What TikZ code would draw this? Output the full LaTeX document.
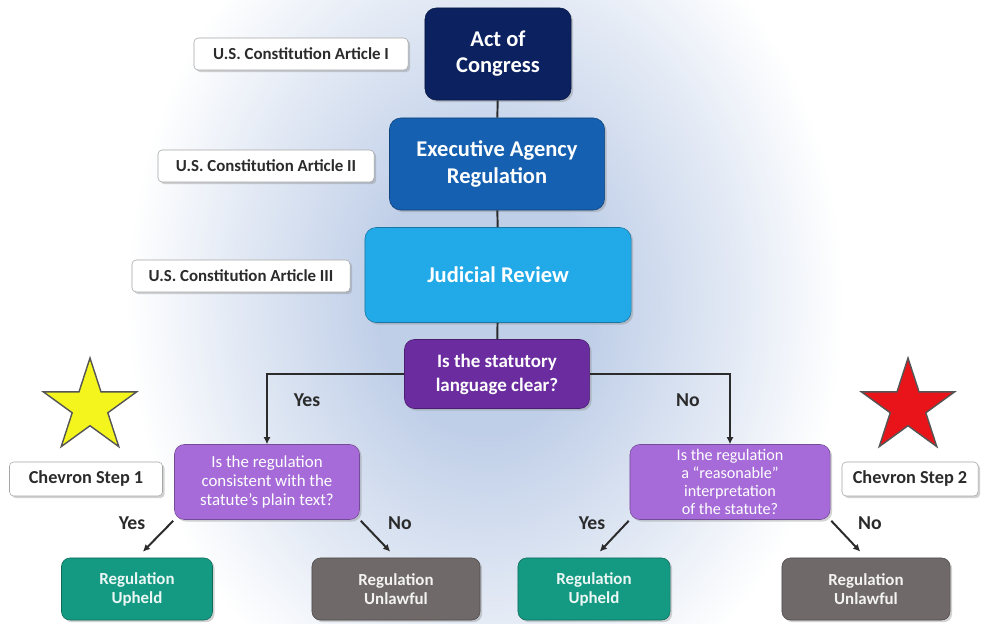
\documentclass[tikz,border=0pt]{standalone}
\usepackage{fontspec}
\setmainfont{Carlito}
\usetikzlibrary{arrows.meta,positioning,shapes.geometric,shadows}
\definecolor{navy}{HTML}{0B2160}
\definecolor{agency}{HTML}{1560B0}
\definecolor{court}{HTML}{22AAE8}
\definecolor{plum}{HTML}{6B2C9F}
\definecolor{lilac}{HTML}{A66BD8}
\definecolor{upheld}{HTML}{149A82}
\definecolor{unlawful}{HTML}{706969}
\definecolor{ink}{HTML}{2B2B2B}
\definecolor{glow}{HTML}{C0CFE8}
\definecolor{starred}{HTML}{E8141A}
\definecolor{staryel}{HTML}{F5F51E}
\pgfdeclareradialshading{bgglow}{\pgfpoint{0bp}{0bp}}{color(0bp)=(glow); color(7bp)=(glow); color(16bp)=(glow!45!white); color(23bp)=(white); color(50bp)=(white)}
\tikzset{
  boxshadow/.style={drop shadow={opacity=.35,shadow xshift=1.5pt,shadow yshift=-1.5pt}},
  mainbox/.style={rounded corners=8pt,draw=#1!70!black,fill=#1,text=white,align=center,
    font=\fontsize{16}{18.5}\selectfont\bfseries,boxshadow},
  qbox/.style={rounded corners=7pt,draw=#1!70!black,fill=#1,text=white,align=center,
    inner sep=1pt,boxshadow},
  outbox/.style={rounded corners=6pt,draw=#1!70!black,fill=#1,text=white!92!#1,align=center,
    font=\fontsize{12}{13.5}\selectfont\bfseries,minimum height=1.55cm,boxshadow},
  labelbox/.style={rounded corners=3pt,draw=gray!70,fill=white,text=ink,
    minimum height=0.8cm,boxshadow},
  starshape/.style={star,star points=5,star point ratio=2.618,minimum size=2.45cm,
    inner sep=0pt,draw=ink!80,line width=1pt},
  link/.style={draw=ink,line width=1.4pt},
  arr/.style={link,-{Latex[length=5pt,width=5pt]}},
  yn/.style={text=ink,font=\fontsize{14}{15}\selectfont\bfseries}
}
\begin{document}
\begin{tikzpicture}[x=0.025cm,y=-0.025cm]
\begin{scope}
  \clip (0,0) rectangle (990,623);
  \fill[white] (0,0) rectangle (990,623);
  \shade[shading=bgglow] (95,-180) rectangle (875,780);
\end{scope}
\useasboundingbox (0,0) rectangle (990,623);

% the chain of authority
\node[mainbox=navy,minimum width=3.65cm,minimum height=2.3cm] (act) at (498,54) {Act of\\Congress};
\node[mainbox=agency,minimum width=5.375cm,minimum height=2.3cm] (agency) at (497,164) {Executive Agency\\Regulation};
\node[mainbox=court,minimum width=6.65cm,minimum height=2.375cm] (review) at (498,275) {Judicial Review};
\node[qbox=plum,minimum width=4.625cm,minimum height=1.725cm,
  font=\fontsize{13.5}{17}\selectfont\bfseries] (clear) at (497,374) {Is the statutory\\language clear?};

% constitution labels
\node[labelbox,minimum width=5.35cm,font=\fontsize{12}{13}\selectfont\bfseries] (art1) at (301,54) {U.S. Constitution Article I};
\node[labelbox,minimum width=5.4cm,font=\fontsize{12}{13}\selectfont\bfseries] (art2) at (266,166) {U.S. Constitution Article II};
\node[labelbox,minimum width=5.45cm,font=\fontsize{12}{13}\selectfont\bfseries] (art3) at (241,276) {U.S. Constitution Article III};

% the two steps
\node[qbox=lilac,minimum width=4.625cm,minimum height=1.875cm,
  font=\fontsize{12}{13.5}\selectfont] (step1q) at (267,482) {Is the regulation\\consistent with the\\statute's plain text?};
\node[qbox=lilac,minimum width=5cm,minimum height=1.875cm,
  font=\fontsize{11.5}{12.8}\selectfont] (step2q) at (730,482) {Is the regulation\\a ``reasonable''\\interpretation\\of the statute?};

\node[labelbox,minimum width=3.825cm,minimum height=0.85cm,font=\fontsize{13}{14}\selectfont\bfseries] (chev1) at (86,479) {Chevron Step 1};
\node[labelbox,minimum width=3.4cm,minimum height=0.85cm,font=\fontsize{13}{14}\selectfont\bfseries] (chev2) at (910,479) {Chevron Step 2};

\node[starshape,fill=staryel] (star1) at (90,407) {};
\node[starshape,fill=starred] (star2) at (908,407) {};

% outcomes
\node[outbox=upheld,minimum width=3.775cm] (up1) at (137,589) {Regulation\\Upheld};
\node[outbox=unlawful,minimum width=4.2cm] (no1) at (396,589) {Regulation\\Unlawful};
\node[outbox=upheld,minimum width=3.8cm] (up2) at (594,589) {Regulation\\Upheld};
\node[outbox=unlawful,minimum width=4.2cm] (no2) at (866,589) {Regulation\\Unlawful};

% connectors
\draw[link] (act) -- (agency);
\draw[link] (agency) -- (review);
\draw[link] (review) -- (clear);
\draw[arr] (clear.west) -| (step1q.north);
\draw[arr] (clear.east) -| (step2q.north);
\node[yn] (yes0) at (307,400) {Yes};
\node[yn] (no0) at (688,400) {No};

\draw[arr,shorten <=1pt,shorten >=6pt] (step1q.south west) -- (up1.north);
\draw[arr,shorten <=1pt,shorten >=6pt] (step1q.south east) -- (no1.north);
\draw[arr,shorten <=1pt,shorten >=6pt] (step2q.south west) -- (up2.north);
\draw[arr,shorten <=1pt,shorten >=6pt] (step2q.south east) -- (no2.north);
\node[yn] (yes1) at (132,523) {Yes};
\node[yn] (no1l) at (400,523) {No};
\node[yn] (yes2) at (592,523) {Yes};
\node[yn] (no2l) at (870,523) {No};
\end{tikzpicture}
\end{document}
